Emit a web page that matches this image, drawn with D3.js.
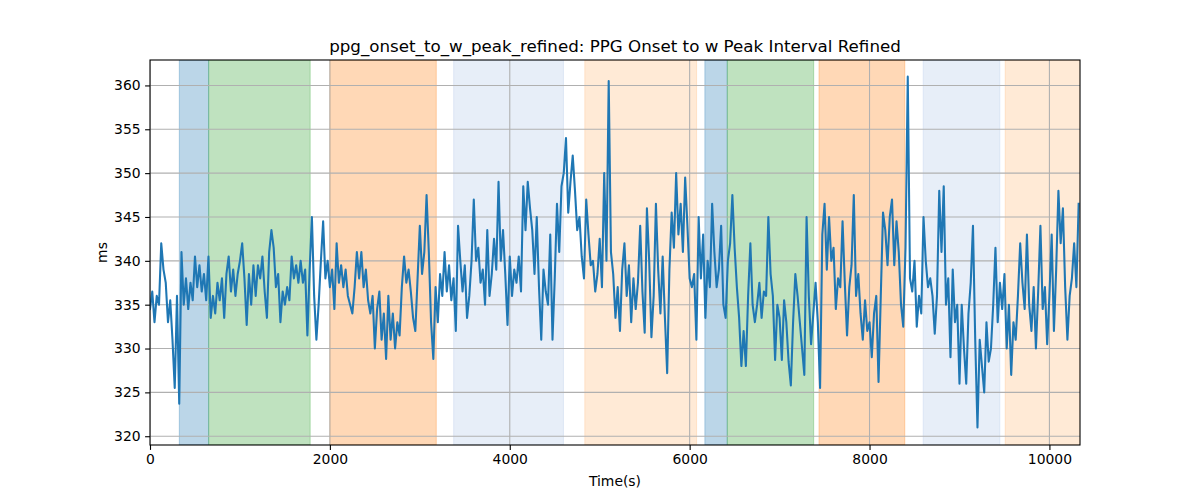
<!DOCTYPE html>
<html>
<head>
<meta charset="utf-8">
<script src="https://cdn.jsdelivr.net/npm/d3@7"></script>
<style>
  body { margin: 0; background: #fff; }
  svg { display: block; font-family: "DejaVu Sans", sans-serif; }
</style>
</head>
<body>
<div id="chart"></div>
<script>
// sampling step of the series, seconds
const sampleStep = 25

// PPG onset to w peak interval, ms (one value per sampleStep, from t = 0)
const intervalMs = [
  334.5, 336.5, 333, 336, 335, 342, 339, 337.5, 333, 335.5,          // 0
  331, 325.5, 336, 323.7, 341, 335, 338, 334.5, 337.5, 335.5,        // 250
  340.5, 337, 339.5, 336.5, 338.5, 335.5, 340.5, 333.5, 336, 334,    // 500
  337.5, 335.5, 338, 333.5, 338.5, 340.5, 336.5, 339, 336, 338.5,    // 750
  340, 342, 338, 332.7, 338.5, 335, 339.5, 336, 339.5, 338,          // 1000
  340.5, 336.5, 333.5, 341, 343.5, 341.5, 337, 338.5, 333, 336.5,    // 1250
  335, 337, 335.5, 340.5, 338, 339.5, 337.5, 340, 337.5, 339,        // 1500
  331.5, 339, 345, 336, 331, 335, 340, 344.5, 338, 340,              // 1750
  337, 339, 334.5, 342, 337.5, 339.5, 337, 339, 336, 335,            // 2000
  334, 337, 341, 338, 341, 337, 339, 335.5, 334, 336,                // 2250
  330, 334.5, 336.5, 331, 334, 328.8, 336, 331, 334, 330,            // 2500
  333, 331.5, 337, 340.5, 337.5, 339, 336.5, 333.5, 332, 338,        // 2750
  344, 338.5, 341, 347.5, 341, 333, 328.8, 337, 333, 338.5,          // 3000
  336, 341, 336.5, 339.5, 335.5, 338, 332, 344, 340, 336.5,          // 3250
  339.5, 333.5, 336, 340, 347, 340, 341.5, 337.5, 339, 335,          // 3500
  343.5, 336, 338.5, 342.5, 339, 349, 340, 343.5, 338.5, 332.7,      // 3750
  340.5, 336, 339, 337.5, 340.5, 336.5, 348.5, 343.5, 349, 346,      // 4000
  343.5, 338.5, 345, 337, 331, 339, 336.5, 335, 343, 331,            // 4250
  338, 346.5, 341, 348.5, 350, 354, 345.5, 349, 352, 348,            // 4500
  343.5, 345, 340.5, 338, 347, 343, 339.5, 340, 336.5, 338.5,        // 4750
  342.5, 337, 350, 340, 360.5, 341, 338.5, 333.5, 337, 332,          // 5000
  339, 342, 336, 339.5, 333, 338, 334.5, 337.5, 344, 336.5,          // 5250
  331.8, 346, 340, 331.3, 336, 346.5, 339, 334, 340.5, 333.5,        // 5500
  327.2, 339, 345.5, 341.5, 350, 343, 346.5, 341, 349.5, 344,        // 5750
  338, 337, 338.5, 331, 345, 338, 343, 333.5, 340, 337,              // 6000
  346.5, 341, 337, 339, 344, 335, 333.5, 340, 342, 347.5,            // 6250
  341.5, 337, 333.5, 328, 332, 328, 336, 342, 335, 333,              // 6500
  335, 337.5, 333.5, 336.5, 336, 345, 338.5, 336, 328.7, 335,        // 6750
  333.5, 328.7, 335.5, 333, 328.5, 325.8, 333, 338.5, 336, 333,      // 7000
  330, 327, 345, 336, 330.5, 334, 337.5, 333, 325.5, 343,            // 7250
  346.5, 339, 345, 340, 341.5, 334.5, 338, 337, 344.5, 337.5,        // 7500
  331.5, 337, 339.5, 347.5, 336, 338.5, 334, 331, 335.5, 332,        // 7750
  333, 329, 334, 336, 326.2, 336, 345.5, 343.5, 339.5, 345,          // 8000
  347, 339.5, 344.5, 341, 335, 332.5, 341.5, 361, 338, 336.5,        // 8250
  340, 332.5, 336, 334, 345, 340, 337, 338, 336, 331.7,              // 8500
  336, 348, 341, 348.5, 335, 338, 329, 339, 333, 335,                // 8750
  326, 335, 330, 326, 334, 337.5, 344, 331, 321, 331,                // 9000
  328, 325, 333, 328.5, 330, 335, 341.5, 333, 337.5, 334.5,          // 9250
  338.5, 330, 335, 327, 333, 331, 336, 342, 337.5, 334.5,            // 9500
  343, 335, 332, 337, 330, 336.5, 344, 334.5, 337, 330.5,            // 9750
  336, 343, 332, 339, 348, 342, 346, 337, 331, 336,                  // 10000
  338, 342, 337, 346.5                                               // 10250
]

// shaded phases (seconds)
const spanStarts = [326, 652, 2000, 3376, 4834, 6169, 6418, 7438, 8596, 9508]
const spanEnds   = [652, 1781, 3183, 4597, 6077, 6418, 7379, 8392, 9449, 10400]
const spanColors = ["#1f77b4", "#2ca02c", "#ff7f0e", "#aec7e8", "#ffbb78",
                    "#1f77b4", "#2ca02c", "#ff7f0e", "#aec7e8", "#ffbb78"]

const xTicks = [0, 2000, 4000, 6000, 8000, 10000]
const yTicks = [320, 325, 330, 335, 340, 345, 350, 355, 360]

const chartTitle = "ppg_onset_to_w_peak_refined: PPG Onset to w Peak Interval Refined"
const xLabel = "Time(s)"
const yLabel = "ms"

const width = 1200
const height = 500
const marginLeft = 150
const marginRight = 120
const marginTop = 60
const marginBottom = 55

const data = intervalMs.map((v, i) => ({t: i * sampleStep, v: v}))

const xScale = d3.scaleLinear([0, 10340], [marginLeft, width - marginRight])
const yScale = d3.scaleLinear([319.0, 362.9], [height - marginBottom, marginTop])

const svg = d3.select("#chart")
    .append("svg")
    .attr("width", width)
    .attr("height", height)
    .attr("viewBox", [0, 0, width, height])

svg.append("defs").append("clipPath")
    .attr("id", "plot-clip")
    .append("rect")
    .attr("x", marginLeft)
    .attr("y", marginTop)
    .attr("width", width - marginLeft - marginRight)
    .attr("height", height - marginTop - marginBottom)

const plot = svg.append("g").attr("clip-path", "url(#plot-clip)")

// phase spans
plot.append("g")
    .selectAll("rect")
    .data(spanStarts)
    .join("rect")
    .attr("x", (d) => xScale(d))
    .attr("width", (d, i) => xScale(spanEnds[i]) - xScale(d))
    .attr("y", marginTop)
    .attr("height", height - marginTop - marginBottom)
    .attr("fill", (d, i) => spanColors[i])
    .attr("fill-opacity", 0.3)
    .attr("stroke", (d, i) => spanColors[i])
    .attr("stroke-opacity", 0.3)
    .attr("stroke-width", 1)

// grid
const grid = plot.append("g")
    .attr("stroke", "#b0b0b0")
    .attr("stroke-width", 1.1)
grid.selectAll("line.gx")
    .data(xTicks)
    .join("line")
    .attr("class", "gx")
    .attr("x1", (d) => xScale(d))
    .attr("x2", (d) => xScale(d))
    .attr("y1", marginTop)
    .attr("y2", height - marginBottom)
grid.selectAll("line.gy")
    .data(yTicks)
    .join("line")
    .attr("class", "gy")
    .attr("x1", marginLeft)
    .attr("x2", width - marginRight)
    .attr("y1", (d) => yScale(d))
    .attr("y2", (d) => yScale(d))

// series
const line = d3.line()
    .x((d) => xScale(d.t))
    .y((d) => yScale(d.v))

plot.append("path")
    .datum(data)
    .attr("fill", "none")
    .attr("stroke", "#1f77b4")
    .attr("stroke-width", 2.08)
    .attr("stroke-linejoin", "round")
    .attr("stroke-linecap", "square")
    .attr("d", line)

// axes
const xAxis = d3.axisBottom(xScale).tickValues(xTicks).tickFormat(d3.format("d")).tickSize(4.9).tickPadding(4.5)
const yAxis = d3.axisLeft(yScale).tickValues(yTicks).tickFormat(d3.format("d")).tickSize(4.9).tickPadding(4.5)

svg.append("g")
    .attr("transform", `translate(0,${height - marginBottom})`)
    .call(xAxis)
    .call((g) => g.select(".domain").remove())
    .call((g) => g.selectAll("text").attr("font-size", 13.9).attr("fill", "#000").attr("font-family", "DejaVu Sans"))
    .call((g) => g.selectAll("line").attr("stroke", "#000").attr("stroke-width", 1.1))

svg.append("g")
    .attr("transform", `translate(${marginLeft},0)`)
    .call(yAxis)
    .call((g) => g.select(".domain").remove())
    .call((g) => g.selectAll("text").attr("font-size", 13.9).attr("fill", "#000").attr("font-family", "DejaVu Sans"))
    .call((g) => g.selectAll("line").attr("stroke", "#000").attr("stroke-width", 1.1))

// frame
svg.append("rect")
    .attr("x", marginLeft)
    .attr("y", marginTop)
    .attr("width", width - marginLeft - marginRight)
    .attr("height", height - marginTop - marginBottom)
    .attr("fill", "none")
    .attr("stroke", "#000")
    .attr("stroke-width", 1.1)

svg.append("text")
    .attr("x", (marginLeft + width - marginRight) / 2)
    .attr("y", 52)
    .attr("text-anchor", "middle")
    .attr("font-size", 16.7)
    .text(chartTitle)

svg.append("text")
    .attr("x", (marginLeft + width - marginRight) / 2)
    .attr("y", 486)
    .attr("text-anchor", "middle")
    .attr("font-size", 13.9)
    .text(xLabel)

svg.append("text")
    .attr("transform", `translate(107,${(marginTop + height - marginBottom) / 2}) rotate(-90)`)
    .attr("text-anchor", "middle")
    .attr("font-size", 13.9)
    .text(yLabel)
</script>
</body>
</html>
